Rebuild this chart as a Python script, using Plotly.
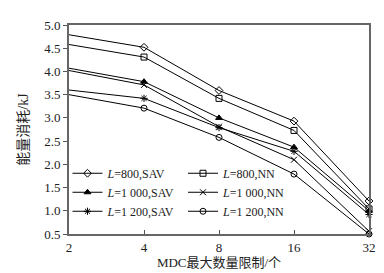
import plotly.graph_objects as go

x_vals = [2, 4, 8, 16, 32]
x_ticks = ["2", "4", "8", "16", "32"]
y_ticks = [0.5, 1.0, 1.5, 2.0, 2.5, 3.0, 3.5, 4.0, 4.5, 5.0]

sav_800 = [4.79, 4.52, 3.59, 2.93, 1.21]
nn_800 = [4.58, 4.31, 3.42, 2.73, 1.04]
sav_1000 = [4.07, 3.78, 3.00, 2.37, 1.00]
nn_1000 = [4.02, 3.71, 2.81, 2.10, 0.56]
sav_1200 = [3.60, 3.42, 2.79, 2.28, 0.92]
nn_1200 = [3.50, 3.21, 2.58, 1.79, 0.50]

series = [
    ("<i>L</i>=800,SAV", sav_800, "diamond-open", "legend"),
    ("<i>L</i>=1 000,SAV", sav_1000, "triangle-up", "legend"),
    ("<i>L</i>=1 200,SAV", sav_1200, "asterisk-open", "legend"),
    ("<i>L</i>=800,NN", nn_800, "square-open", "legend2"),
    ("<i>L</i>=1 000,NN", nn_1000, "x-thin-open", "legend2"),
    ("<i>L</i>=1 200,NN", nn_1200, "circle-open", "legend2"),
]

font_family = "Liberation Serif, Times New Roman, Noto Sans CJK SC, serif"

fig = go.Figure()
for name, vals, sym, lg in series:
    fig.add_trace(go.Scatter(
        x=x_vals, y=vals, name=name, mode="lines+markers",
        line=dict(color="black", width=1),
        marker=dict(symbol=sym, size=6, color="black",
                    line=dict(color="black", width=1)),
        cliponaxis=False, legend=lg,
    ))

legend_common = dict(
    bgcolor="rgba(0,0,0,0)", font=dict(family=font_family, size=12, color="#222"),
    tracegroupgap=0, itemsizing="trace", itemwidth=30,
    xanchor="left", yanchor="top", yref="paper", xref="paper",
)

fig.update_layout(
    width=384, height=273,
    margin=dict(l=61, r=23, t=10, b=47),
    paper_bgcolor="white", plot_bgcolor="white",
    font=dict(family=font_family, size=13, color="#222"),
    showlegend=True,
    legend=dict(x=-0.005, y=0.36, **legend_common),
    legend2=dict(x=0.38, y=0.36, **legend_common),
    xaxis=dict(
        type="log", range=[0.30103, 1.50515],
        tickvals=x_vals, ticktext=x_ticks,
        ticks="inside", ticklen=4, tickcolor="#555",
        showgrid=False, zeroline=False,
        showline=True, linecolor="#666", linewidth=2, mirror=True,
        title=dict(text="MDC最大数量限制/个", font=dict(family=font_family, size=13), standoff=4),
    ),
    yaxis=dict(
        range=[0.5, 5.0], tickvals=y_ticks,
        ticktext=[f"{v:.1f}" for v in y_ticks],
        ticks="outside", ticklen=4, tickcolor="#555",
        showgrid=False, zeroline=False,
        showline=True, linecolor="#666", linewidth=2, mirror=True,
        title=dict(text="能量消耗/kJ", font=dict(family=font_family, size=14), standoff=12),
    ),
)

fig.write_html("out.html")
